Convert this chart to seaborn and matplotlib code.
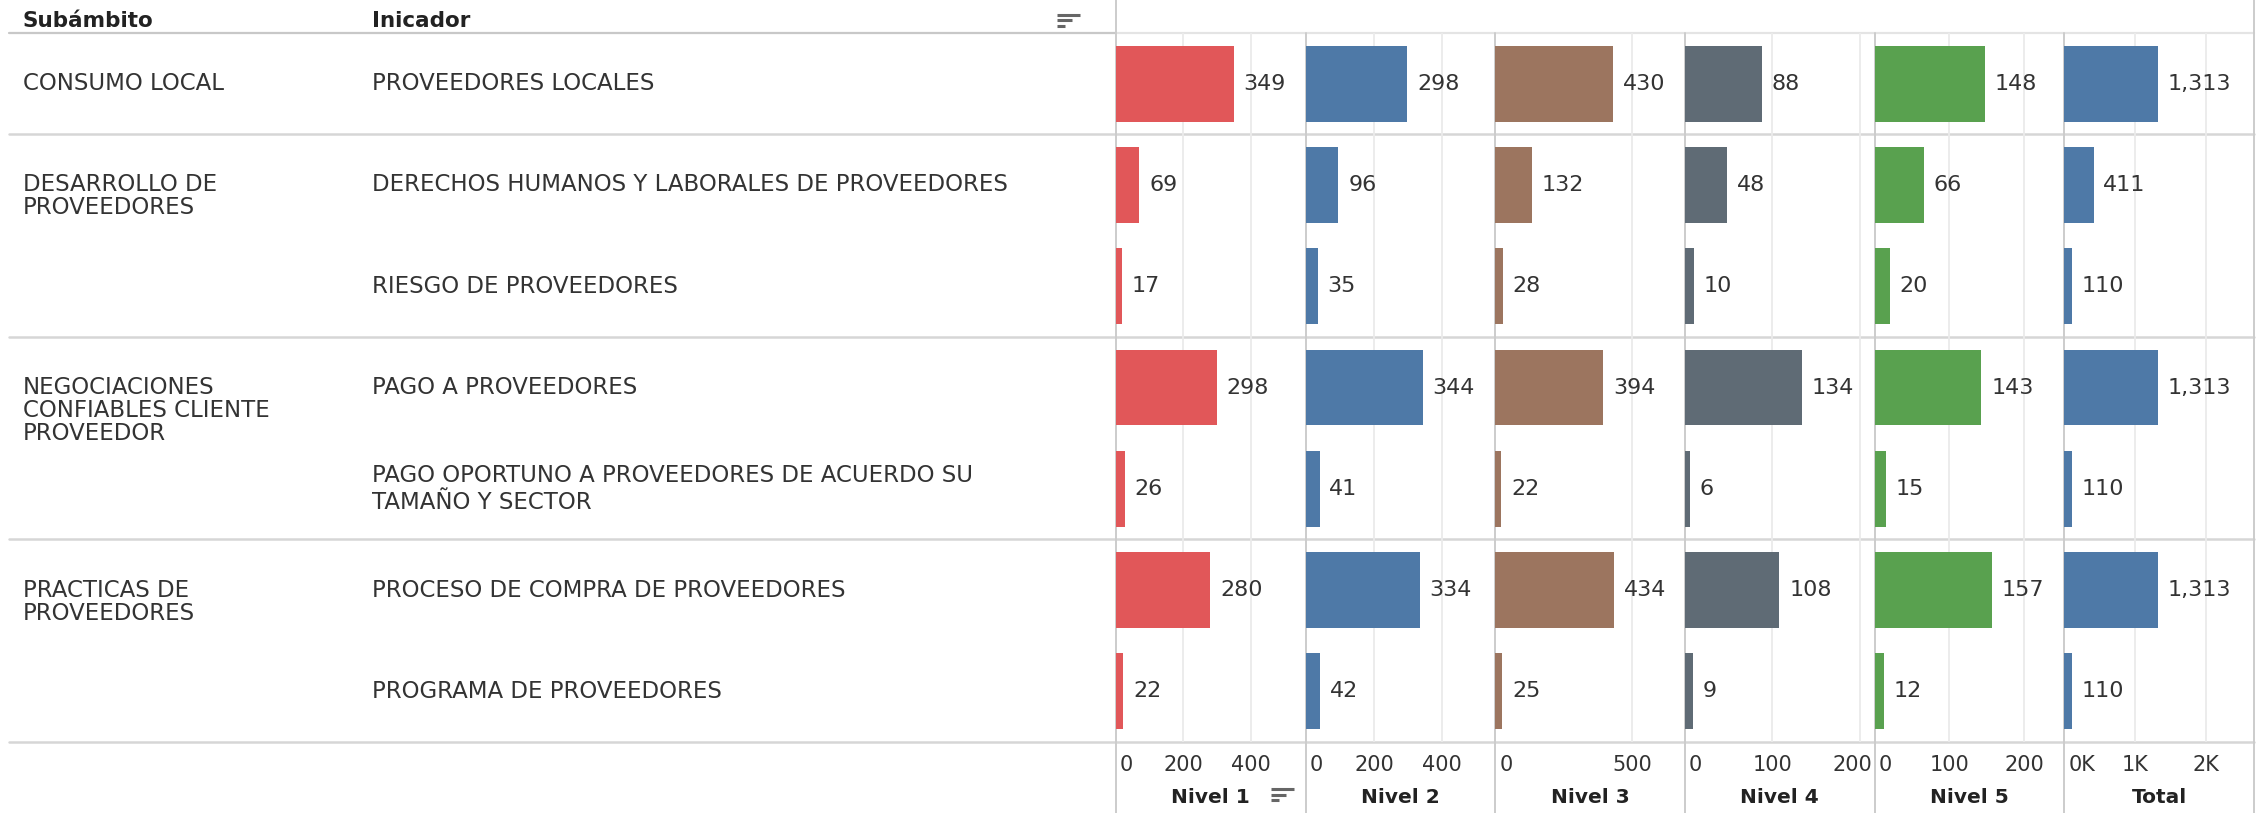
import numpy as np
import pandas as pd
import matplotlib
matplotlib.use("Agg")
import matplotlib.pyplot as plt
import matplotlib.transforms as mtrans
import seaborn as sns

# ---------------- data ----------------
subambitos = ["CONSUMO LOCAL",
              "DESARROLLO DE\nPROVEEDORES",
              "NEGOCIACIONES\nCONFIABLES CLIENTE\nPROVEEDOR",
              "PRACTICAS DE\nPROVEEDORES"]
subambito_n = [1, 2, 2, 2]
indicadores = ["PROVEEDORES LOCALES",
               "DERECHOS HUMANOS Y LABORALES DE PROVEEDORES",
               "RIESGO DE PROVEEDORES",
               "PAGO A PROVEEDORES",
               "PAGO OPORTUNO A PROVEEDORES DE ACUERDO SU\nTAMAÑO Y SECTOR",
               "PROCESO DE COMPRA DE PROVEEDORES",
               "PROGRAMA DE PROVEEDORES"]
nivel_1 = [349, 69, 17, 298, 26, 280, 22]
nivel_2 = [298, 96, 35, 344, 41, 334, 42]
nivel_3 = [430, 132, 28, 394, 22, 434, 25]
nivel_4 = [88, 48, 10, 134, 6, 108, 9]
nivel_5 = [148, 66, 20, 143, 15, 157, 12]
total = [1313, 411, 110, 1313, 110, 1313, 110]
medidas = ["Nivel 1", "Nivel 2", "Nivel 3", "Nivel 4", "Nivel 5", "Total"]
tick_values = [[0, 200, 400], [0, 200, 400], [0, 500], [0, 100, 200], [0, 100, 200], [0, 1000, 2000]]
tick_labels = [["0", "200", "400"], ["0", "200", "400"], ["0", "500"], ["0", "100", "200"],
               ["0", "100", "200"], ["0K", "1K", "2K"]]

series = [nivel_1, nivel_2, nivel_3, nivel_4, nivel_5, total]
df = pd.DataFrame({"Indicador": np.tile(indicadores, len(medidas)),
                   "Medida": np.repeat(medidas, len(indicadores)),
                   "Valor": np.concatenate(series)})

# ---------------- style ----------------
sns.set_theme(style="white")
plt.rcParams["font.family"] = ["DejaVu Sans"]
colors = ["#E15759", "#4E79A7", "#9C755F", "#5F6B75", "#59A14F", "#4E79A7"]
xmax = [562, 556, 692, 217, 254, 2670]
TXT = "#333333"

W, H = 2261, 813
DPI = 100
fig = plt.figure(figsize=(W / DPI, H / DPI), dpi=DPI)
top, bottom = 33, 742
p_left, p_right = 1116, 2254
pw = (p_right - p_left) / len(medidas)
n_rows = len(indicadores)
row_h = (bottom - top) / n_rows

def fx(x):
    return x / W

def fy(y):
    return 1 - y / H

# background axes in pixel coordinates for separators
bg = fig.add_axes([0, 0, 1, 1], zorder=0)
bg.set_xlim(0, W)
bg.set_ylim(H, 0)
bg.axis("off")

# label axes sharing the row scale
ax_lab = fig.add_axes([0, fy(bottom), fx(p_left), (bottom - top) / H], zorder=2)
ax_lab.set_xlim(0, p_left)
ax_lab.set_ylim(n_rows - 0.5, -0.5)
ax_lab.axis("off")

# headers
bg.text(23, 21, "Subámbito", fontsize=15.5, fontweight="bold", color="#222222", va="center", ha="left")
bg.text(372, 21, "Inicador", fontsize=15.5, fontweight="bold", color="#222222", va="center", ha="left")

def sort_icon(x, y):
    for k, L in enumerate([23, 15, 8]):
        bg.plot([x, x + L], [y + k * 5.5, y + k * 5.5], color="#666666", lw=2.2, solid_capstyle="butt")

sort_icon(1057, 15)

# row labels
LAB_FS = 16.5
line_pt = 23 * 72 / DPI
r = 0
for name, n in zip(subambitos, subambito_n):
    for k, line in enumerate(name.split("\n")):
        ax_lab.annotate(line, xy=(23, r), xytext=(0, -k * line_pt), textcoords="offset points",
                        fontsize=LAB_FS, color=TXT, va="center", ha="left")
    r += n
for i, name in enumerate(indicadores):
    ax_lab.text(372, i, name, fontsize=LAB_FS, color=TXT, va="center", ha="left", linespacing=1.25)

# separators
bg.plot([9, p_left], [top, top], color="#c8c8c8", lw=1.6)
bg.plot([p_left, p_right], [top, top], color="#e4e4e4", lw=1.6)
cum = 0
for n in subambito_n:
    cum += n
    y = top + cum * row_h
    bg.plot([9, p_right], [y, y], color="#d6d6d6", lw=1.8)
bg.plot([p_left, p_left], [0, H], color="#cccccc", lw=1.4)
bg.plot([p_right, p_right], [0, H], color="#cccccc", lw=1.4)
for j in range(1, len(medidas)):
    x = p_left + j * pw
    bg.plot([x, x], [top, H], color="#cccccc", lw=1.4)

# panels
axes = []
for j, med in enumerate(medidas):
    ax = fig.add_axes([fx(p_left + j * pw), fy(bottom), fx(pw), (bottom - top) / H], zorder=1)
    ax.patch.set_alpha(0)
    sub = df[df["Medida"] == med]
    sns.barplot(data=sub, y="Indicador", x="Valor", order=indicadores, color=colors[j],
                saturation=1, width=0.75, orient="h", ax=ax, edgecolor="none")
    ax.set_xlim(0, xmax[j])
    ax.set_ylim(n_rows - 0.5, -0.5)
    ax.set_xticks(tick_values[j])
    ax.set_xticklabels(tick_labels[j], fontsize=15, color=TXT)
    ax.tick_params(axis="x", length=0, pad=9)
    ax.set_yticks([])
    ax.set_xlabel("")
    ax.set_ylabel("")
    for s in ax.spines.values():
        s.set_visible(False)
    for v in tick_values[j][1:]:
        ax.axvline(v, color="#ebebeb", lw=1.3, zorder=0)
    for i, v in enumerate(sub["Valor"].to_numpy()):
        ax.annotate(f"{v:,}", xy=(v, i), xytext=(7, 0), textcoords="offset points",
                    fontsize=16, color=TXT, va="center", ha="left")
    bg.text(p_left + (j + 0.5) * pw, 797, med, fontsize=14.5, fontweight="bold",
            color="#222222", ha="center", va="center")
    axes.append(ax)

sort_icon(1271, 789)

# fit edge tick labels inside their panels
fig.canvas.draw()
rend = fig.canvas.get_renderer()
for ax in axes:
    bb = ax.get_window_extent(rend)
    for lab in ax.get_xticklabels():
        e = lab.get_window_extent(rend)
        dx = 0
        if e.x0 < bb.x0 + 4:
            dx = bb.x0 + 4 - e.x0
        elif e.x1 > bb.x1 - 2:
            dx = bb.x1 - 2 - e.x1
        if dx:
            lab.set_transform(lab.get_transform() + mtrans.Affine2D().translate(dx, 0))

fig.savefig("out.png", dpi=DPI, facecolor="white")
